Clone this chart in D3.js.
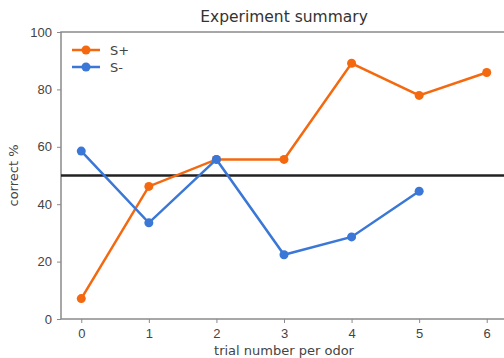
<!DOCTYPE html>
<html>
<head>
<meta charset="UTF-8">
<script src="https://d3js.org/d3.v7.min.js"></script>
<style>
  body { margin: 0; background: #fff; }
  svg { display: block; font-family: "DejaVu Sans", sans-serif; }
</style>
</head>
<body>
<svg id="chart" width="504" height="358"></svg>
<script>
const trials = [0, 1, 2, 3, 4, 5, 6];
const sPlus = [7.1, 46.2, 55.6, 55.6, 89.1, 77.9, 85.9];
const sMinus = [58.5, 33.5, 55.6, 22.4, 28.6, 44.5];
const xTicks = [0, 1, 2, 3, 4, 5, 6];
const yTicks = [0, 20, 40, 60, 80, 100];
const chance = 50;

const margin = { left: 61, top: 32, right: -3, bottom: 39 };
const W = 504, H = 358;
const svg = d3.select("#chart");

const x = d3.scaleLinear().domain([-0.3, 6.3]).range([margin.left, W - margin.right]);
const y = d3.scaleLinear().domain([0, 100]).range([H - margin.bottom, margin.top]);

const axisColor = "#8a8a8a";
const textColor = "#444";

// spines
svg.append("rect")
  .attr("x", x(-0.3)).attr("y", y(100))
  .attr("width", x(6.3) - x(-0.3)).attr("height", y(0) - y(100))
  .attr("fill", "none").attr("stroke", axisColor).attr("stroke-width", 1.5);

const xAxis = svg.append("g")
  .attr("transform", `translate(0,${y(0)})`)
  .call(d3.axisBottom(x).tickValues(xTicks).tickSize(4).tickPadding(6).tickFormat(d3.format("d")));
const yAxis = svg.append("g")
  .attr("transform", `translate(${x(-0.3)},0)`)
  .call(d3.axisLeft(y).tickValues(yTicks).tickSize(4).tickPadding(5));
[xAxis, yAxis].forEach(a => {
  a.select(".domain").remove();
  a.selectAll(".tick line").attr("stroke", axisColor);
  a.selectAll(".tick text").attr("fill", textColor).attr("font-size", 13);
});

// chance line
svg.append("line")
  .attr("x1", x(-0.3)).attr("x2", x(6.3))
  .attr("y1", y(chance)).attr("y2", y(chance))
  .attr("stroke", "#222").attr("stroke-width", 2.5);

const series = [
  { name: "S+", values: sPlus, color: "#f4690f" },
  { name: "S-", values: sMinus, color: "#3a77d6" }
];

const line = d3.line().x((d, i) => x(trials[i])).y(d => y(d));

series.forEach(s => {
  svg.append("path")
    .attr("d", line(s.values))
    .attr("fill", "none").attr("stroke", s.color).attr("stroke-width", 2.5);
  svg.append("g").selectAll("circle").data(s.values).join("circle")
    .attr("cx", (d, i) => x(trials[i])).attr("cy", d => y(d))
    .attr("r", 4.5).attr("fill", s.color);
});

// legend
const legend = svg.append("g").attr("transform", "translate(72,50)");
series.forEach((s, i) => {
  const g = legend.append("g").attr("transform", `translate(0,${i * 17})`);
  g.append("line").attr("x1", 0).attr("x2", 28).attr("stroke", s.color).attr("stroke-width", 2.5);
  g.append("circle").attr("cx", 14).attr("r", 4.5).attr("fill", s.color);
  g.append("text").attr("x", 38).attr("dy", "0.35em")
    .attr("font-size", 13).attr("fill", textColor).text(s.name);
});

// title and labels
svg.append("text").attr("x", 284).attr("y", 22).attr("text-anchor", "middle")
  .attr("font-size", 15.5).attr("fill", "#333").text("Experiment summary");
svg.append("text").attr("x", 284).attr("y", 355).attr("text-anchor", "middle")
  .attr("font-size", 13).attr("fill", textColor).text("trial number per odor");
svg.append("text").attr("transform", `translate(18,${y(50)}) rotate(-90)`)
  .attr("text-anchor", "middle").attr("font-size", 13).attr("fill", textColor).text("correct %");
</script>
</body>
</html>
